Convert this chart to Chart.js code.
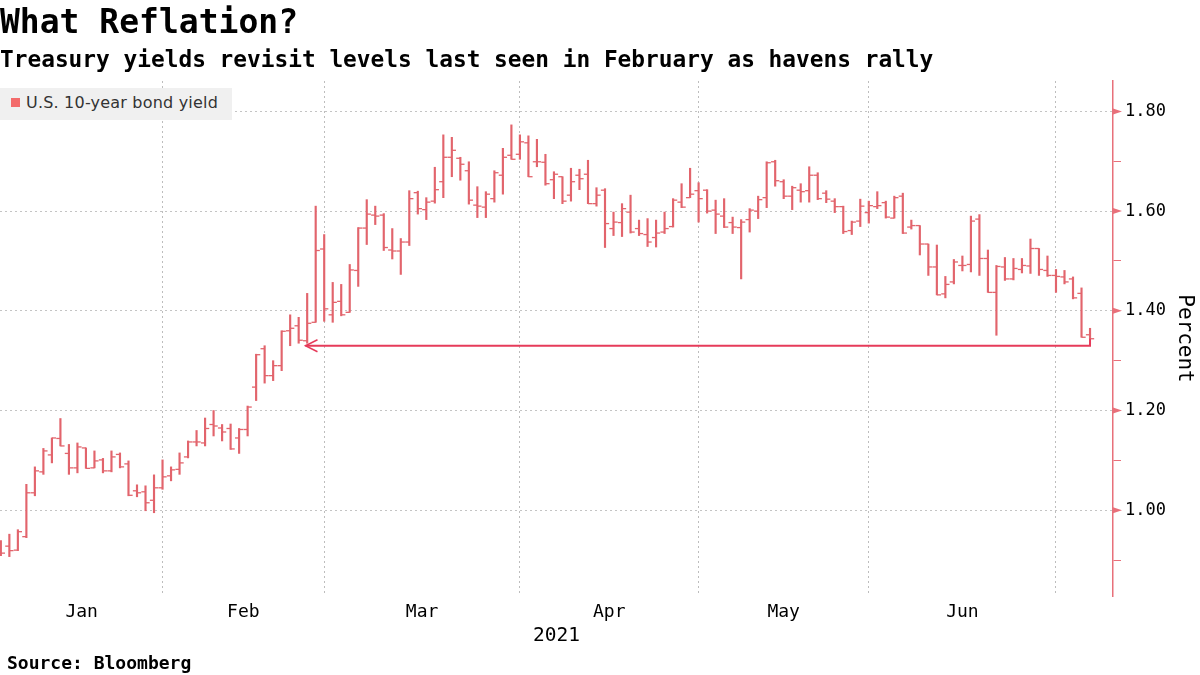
<!DOCTYPE html>
<html lang="en">
<head>
<meta charset="UTF-8">
<title>What Reflation?</title>
<script src="https://cdn.jsdelivr.net/npm/chart.js@4.4.1/dist/chart.umd.min.js"></script>
<style>
    body { margin: 0; background: #fff; font-family: "DejaVu Sans Mono", monospace; }
    #wrap { position: relative; width: 1200px; height: 675px; overflow: hidden; }
    #chart { position: absolute; left: 0; top: 0; }
    .title { position: absolute; left: 0; top: 5px; font-size: 33px; line-height: 33px; font-weight: bold; color: #000; white-space: nowrap; }
    .subtitle { position: absolute; left: 0; top: 48px; font-size: 22.8px; line-height: 22.8px; font-weight: bold; color: #000; white-space: nowrap; }
    .source { position: absolute; left: 7px; top: 654px; font-size: 18px; line-height: 18px; font-weight: bold; color: #000; }
    .legend { position: absolute; left: 0; top: 88px; width: 232px; height: 32px; background: #f0f0f0; }
    .legend .sw { position: absolute; left: 11px; top: 10px; width: 9px; height: 9px; background: #f36b6b; }
    .legend .lb { position: absolute; left: 26px; top: 0; line-height: 30px; font-family: "DejaVu Sans", sans-serif; font-size: 16px; letter-spacing: 0.2px; color: #333; white-space: nowrap; }
</style>
</head>
<body>
<div id="wrap">
    <canvas id="chart" width="1200" height="675"></canvas>
    <div class="title">What Reflation?</div>
    <div class="subtitle">Treasury yields revisit levels last seen in February as havens rally</div>
    <div class="legend"><div class="sw"></div><div class="lb">U.S. 10-year bond yield</div></div>
    <div class="source">Source: Bloomberg</div>
</div>
<script>
// daily bars, Jan 2021 to early Jul 2021 (index = trading day)
const opens = [
    0.932,0.928,0.920,0.947,1.035,1.077,1.111,1.144,1.114,1.085,
    1.125,1.085,1.101,1.079,1.112,1.093,1.039,1.037,1.020,1.045,
    1.069,1.082,1.107,1.137,1.135,1.172,1.165,1.164,1.145,1.162,
    1.247,1.324,1.270,1.290,1.360,1.370,1.340,1.377,1.524,1.392,
    1.419,1.397,1.481,1.566,1.592,1.592,1.522,1.520,1.538,1.637,
    1.603,1.620,1.659,1.708,1.706,1.681,1.612,1.608,1.625,1.672,
    1.712,1.714,1.737,1.699,1.698,1.663,1.669,1.632,1.672,1.674,
    1.615,1.642,1.565,1.577,1.598,1.565,1.553,1.547,1.558,1.569,
    1.618,1.627,1.641,1.642,1.602,1.590,1.577,1.567,1.583,1.600,
    1.627,1.699,1.659,1.630,1.642,1.641,1.672,1.636,1.620,1.609,
    1.561,1.580,1.597,1.609,1.617,1.586,1.630,1.568,1.571,1.534,
    1.488,1.434,1.458,1.491,1.493,1.584,1.505,1.437,1.488,1.464,
    1.483,1.490,1.525,1.481,1.471,1.468,1.464,1.435,1.352
];
const highs = [
    0.939,0.952,0.961,1.052,1.087,1.124,1.145,1.184,1.132,1.135,
    1.125,1.119,1.104,1.119,1.115,1.099,1.051,1.049,1.071,1.101,
    1.087,1.115,1.139,1.160,1.185,1.200,1.172,1.173,1.164,1.209,
    1.313,1.330,1.300,1.360,1.392,1.387,1.435,1.610,1.553,1.457,
    1.453,1.493,1.567,1.623,1.610,1.595,1.565,1.545,1.641,1.640,
    1.627,1.688,1.753,1.748,1.708,1.699,1.649,1.639,1.681,1.726,
    1.773,1.753,1.751,1.744,1.714,1.679,1.669,1.686,1.684,1.702,
    1.647,1.645,1.598,1.615,1.632,1.582,1.585,1.582,1.598,1.625,
    1.655,1.686,1.657,1.643,1.622,1.625,1.588,1.583,1.605,1.630,
    1.699,1.702,1.663,1.650,1.655,1.689,1.677,1.641,1.625,1.610,
    1.580,1.624,1.620,1.639,1.620,1.630,1.636,1.582,1.571,1.534,
    1.532,1.469,1.503,1.510,1.590,1.593,1.522,1.491,1.507,1.505,
    1.505,1.544,1.525,1.510,1.483,1.481,1.468,1.446,1.365
];
const lows = [
    0.909,0.907,0.919,0.945,1.029,1.072,1.095,1.129,1.072,1.075,
    1.084,1.085,1.075,1.077,1.085,1.029,1.027,0.999,0.995,1.042,
    1.059,1.072,1.105,1.129,1.129,1.149,1.139,1.122,1.114,1.149,
    1.220,1.255,1.260,1.280,1.330,1.335,1.335,1.377,1.379,1.377,
    1.390,1.397,1.449,1.533,1.573,1.521,1.504,1.473,1.531,1.594,
    1.583,1.616,1.627,1.669,1.662,1.614,1.587,1.587,1.618,1.634,
    1.704,1.704,1.669,1.689,1.652,1.625,1.615,1.620,1.643,1.615,
    1.610,1.527,1.551,1.549,1.556,1.551,1.529,1.528,1.555,1.568,
    1.607,1.627,1.578,1.596,1.555,1.567,1.555,1.464,1.558,1.585,
    1.607,1.650,1.625,1.603,1.618,1.618,1.623,1.617,1.597,1.555,
    1.553,1.569,1.576,1.605,1.586,1.586,1.555,1.564,1.512,1.471,
    1.432,1.426,1.454,1.480,1.478,1.471,1.437,1.351,1.461,1.462,
    1.476,1.475,1.471,1.469,1.437,1.454,1.424,1.347,1.344
];
const closes = [
    0.914,0.919,0.957,1.035,1.079,1.119,1.145,1.129,1.085,1.127,
    1.084,1.099,1.079,1.107,1.087,1.030,1.035,1.015,1.045,1.067,
    1.081,1.095,1.137,1.137,1.164,1.169,1.157,1.123,1.162,1.207,
    1.312,1.270,1.290,1.359,1.365,1.341,1.375,1.521,1.404,1.417,
    1.392,1.482,1.566,1.594,1.590,1.527,1.520,1.538,1.625,1.605,
    1.618,1.643,1.708,1.722,1.694,1.622,1.610,1.634,1.677,1.708,
    1.704,1.739,1.669,1.699,1.655,1.674,1.620,1.659,1.665,1.615,
    1.632,1.575,1.578,1.605,1.558,1.555,1.538,1.556,1.565,1.622,
    1.608,1.634,1.625,1.600,1.594,1.568,1.568,1.578,1.602,1.623,
    1.697,1.661,1.630,1.647,1.639,1.672,1.625,1.624,1.609,1.559,
    1.578,1.610,1.611,1.611,1.588,1.627,1.556,1.571,1.534,1.488,
    1.432,1.453,1.498,1.491,1.580,1.505,1.437,1.489,1.464,1.485,
    1.491,1.525,1.483,1.471,1.469,1.458,1.426,1.347,1.344
];

// first trading day of each month (bar index) and month names
const monthEdges = [0, 19, 38, 61, 82, 102, 124];
const monthNames = ['Jan', 'Feb', 'Mar', 'Apr', 'May', 'Jun'];
const yTicks = [0.9, 1.0, 1.1, 1.2, 1.3, 1.4, 1.5, 1.6, 1.7, 1.8];

// arrow: from the last bar back to the February level
const arrowFrom = 128;
const arrowTo = 35.8;
const arrowLevel = 1.33;

const barColor = '#e2646c';
const axisColor = '#e8707a';
const font = '"DejaVu Sans Mono", monospace';

const gridLines = monthEdges.slice(1);
const monthMid = monthNames.map((m, k) => (monthEdges[k] + monthEdges[k + 1]) / 2);
const xTicks = [...monthMid, ...gridLines].sort((a, b) => a - b);
const isMajor = v => Math.round(v * 10) % 2 === 0;

const extrasPlugin = {
    id: 'extras',
    afterDatasetsDraw(chart) {
        const {ctx, scales: {x, y}} = chart;
        // red arrow
        const x0 = x.getPixelForValue(arrowFrom);
        const x1 = x.getPixelForValue(arrowTo);
        const yl = y.getPixelForValue(arrowLevel);
        const yt = y.getPixelForValue(lows[arrowFrom]);
        ctx.save();
        ctx.strokeStyle = '#e63b5a';
        ctx.lineWidth = 2;
        ctx.beginPath();
        ctx.moveTo(x0, yt);
        ctx.lineTo(x0, yl);
        ctx.lineTo(x1, yl);
        ctx.stroke();
        ctx.lineWidth = 1.5;
        ctx.beginPath();
        ctx.moveTo(x1 + 12, yl - 6);
        ctx.lineTo(x1, yl);
        ctx.lineTo(x1 + 12, yl + 6);
        ctx.stroke();
        // wedge marks on the major y ticks
        ctx.fillStyle = axisColor;
        yTicks.filter(isMajor).forEach(v => {
            const py = y.getPixelForValue(v);
            ctx.beginPath();
            ctx.moveTo(y.left, py - 3);
            ctx.lineTo(y.left + 9, py);
            ctx.lineTo(y.left, py + 3);
            ctx.closePath();
            ctx.fill();
        });
        ctx.restore();
    }
};

const tickOff = 0.24;

new Chart(document.getElementById('chart'), {
    type: 'bar',
    data: {
        datasets: [
            {
                label: 'U.S. 10-year bond yield',
                data: lows.map((l, i) => ({x: i, y: [l, highs[i]]})),
                backgroundColor: barColor,
                borderWidth: 0,
                barThickness: 1.5,
                grouped: false
            },
            {
                type: 'scatter',
                data: opens.map((v, i) => ({x: i - tickOff, y: v})),
                pointStyle: 'line',
                pointRadius: 2.1,
                borderColor: barColor,
                borderWidth: 1.3
            },
            {
                type: 'scatter',
                data: closes.map((v, i) => ({x: i + tickOff, y: v})),
                pointStyle: 'line',
                pointRadius: 2.1,
                borderColor: barColor,
                borderWidth: 1.3
            }
        ]
    },
    options: {
        responsive: false,
        animation: false,
        layout: { autoPadding: false, padding: { top: 81, right: 0, bottom: 19, left: 0 } },
        plugins: { legend: { display: false }, tooltip: { enabled: false } },
        scales: {
            x: {
                type: 'linear',
                min: -0.1,
                max: 130.7,
                offset: false,
                afterBuildTicks: s => { s.ticks = xTicks.map(v => ({value: v})); },
                afterFit: s => { s.height = 60; },
                grid: {
                    offset: false,
                    color: c => (c.tick && gridLines.includes(c.tick.value)) ? '#bdbdbd' : 'rgba(0,0,0,0)',
                    drawTicks: false
                },
                border: { display: false, dash: [2, 3] },
                ticks: {
                    autoSkip: false,
                    maxRotation: 0,
                    padding: 6,
                    color: '#000',
                    font: { family: font, size: 18 },
                    callback: v => {
                        const k = monthMid.indexOf(v);
                        return k >= 0 ? monthNames[k] : '';
                    }
                },
                title: {
                    display: true,
                    text: '2021',
                    color: '#000',
                    font: { family: font, size: 19.5 },
                    padding: { top: 0, bottom: 8 }
                }
            },
            y: {
                position: 'right',
                min: 0.828,
                max: 1.861,
                afterBuildTicks: s => { s.ticks = yTicks.map(v => ({value: v})); },
                afterFit: s => { s.width = 87; },
                grid: {
                    color: c => (c.tick && isMajor(c.tick.value)) ? '#c4c4c4' : 'rgba(0,0,0,0)',
                    drawTicks: true,
                    tickLength: 8,
                    tickColor: c => (c.tick && isMajor(c.tick.value)) ? 'rgba(0,0,0,0)' : axisColor,
                    tickWidth: 1
                },
                border: { display: true, color: axisColor, width: 1.5, dash: [2, 3] },
                ticks: {
                    padding: 4,
                    color: '#000',
                    font: { family: font, size: 17 },
                    callback: v => isMajor(v) ? v.toFixed(2) : ''
                },
                title: {
                    display: true,
                    text: 'Percent',
                    color: '#000',
                    font: { family: font, size: 21 },
                    padding: { top: 2.5, bottom: 0 }
                }
            }
        }
    },
    plugins: [extrasPlugin]
});
</script>
</body>
</html>
